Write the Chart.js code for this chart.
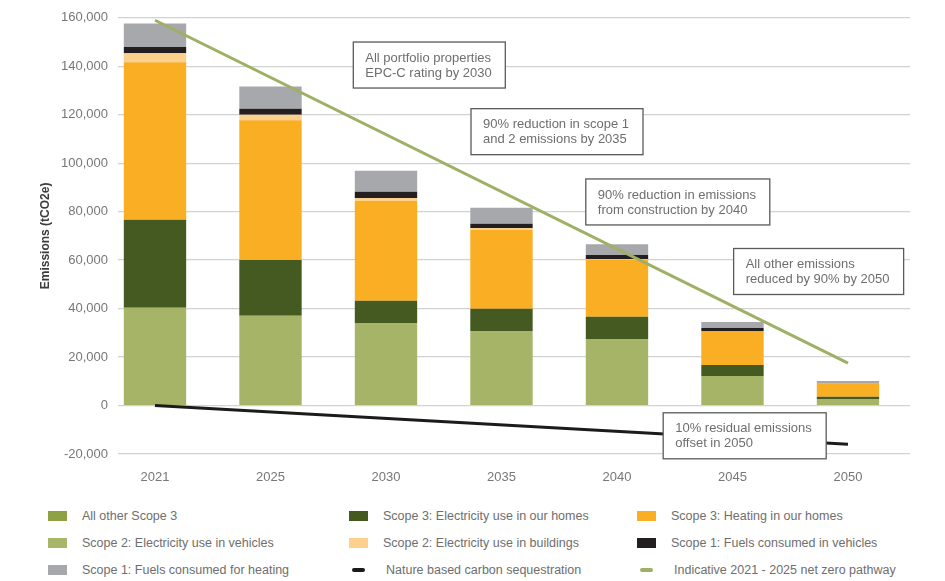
<!DOCTYPE html>
<html>
<head>
<meta charset="utf-8">
<script src="https://cdn.jsdelivr.net/npm/chart.js@4/dist/chart.umd.min.js"></script>
<style>
    html, body { margin: 0; padding: 0; background: #fff; }
    #wrap { position: relative; width: 945px; height: 581px; font-family: "Liberation Sans", Arial, sans-serif; }
    #chartBox { position: absolute; left: 0; top: 0; width: 945px; height: 490px; }
    #legend { position: absolute; left: 0; top: 505px; width: 945px; height: 76px; }
    .item { position: absolute; height: 22px; display: flex; align-items: center; font-size: 12.5px; color: #6e6e6e; white-space: nowrap; }
    .swatch { display: inline-block; width: 19px; height: 10px; margin-right: 15px; }
    .dash { display: inline-block; width: 13px; height: 4px; border-radius: 2px; margin: 0 21px 0 3px; }
</style>
</head>
<body>
<div id="wrap">
    <div id="chartBox"><canvas id="emissions-chart"></canvas></div>
    <div id="legend"></div>
</div>
<script>
// Emissions by source, tCO2e
const years = ['2021', '2025', '2030', '2035', '2040', '2045', '2050'];
const allOtherScope3 = [40400, 37000, 34100, 30800, 27500, 12200, 2700];
const scope2Vehicles = [0, 0, 0, 0, 0, 0, 0];
const scope3ElecHomes = [36300, 23100, 9100, 9100, 9100, 4500, 900];
const scope3HeatingHomes = [65000, 57600, 41300, 32600, 23500, 14100, 5400];
const scope2ElecBuildings = [3700, 2300, 1100, 800, 300, 0, 0];
const scope1FuelsVehicles = [2500, 2500, 2600, 1700, 1700, 1200, 0];
const scope1FuelsHeating = [9700, 9100, 8700, 6600, 4500, 2500, 1100];
// only the end points are known, the line is drawn straight between them
const carbonSequestration = [0, null, null, null, null, null, -16000];
const netZeroPathway = [159000, null, null, null, null, null, 17500];
const yTickValues = [-20000, 0, 20000, 40000, 60000, 80000, 100000, 120000, 140000, 160000];

// milestone call-outs, anchored at (year index, tCO2e)
const milestones = [
    { lines: ['All portfolio properties', 'EPC-C rating by 2030'], at: [1.717, 150000] },
    { lines: ['90% reduction in scope 1', 'and 2 emissions by 2035'], at: [2.736, 122500] },
    { lines: ['90% reduction in emissions', 'from construction by 2040'], at: [3.73, 93500] },
    { lines: ['All other emissions', 'reduced by 90% by 2050'], at: [5.01, 64800] },
    { lines: ['10% residual emissions', 'offset in 2050'], at: [4.4, -3000] }
];

const FONT = '"Liberation Sans", Arial, sans-serif';

function points(values) {
    return values.map((v, i) => ({ x: i, y: v }));
}

function barSet(label, values, color, legendColor) {
    return {
        type: 'bar',
        label: label,
        data: points(values),
        backgroundColor: color,
        legendColor: legendColor || color,
        stack: 'total',
        order: 1,
        barPercentage: 0.54,
        categoryPercentage: 1
    };
}

function lineSet(label, values, color) {
    return {
        type: 'line',
        label: label,
        data: points(values),
        borderColor: color,
        backgroundColor: color,
        legendColor: color,
        borderWidth: 3,
        pointRadius: 0,
        spanGaps: true,
        order: 0
    };
}

const bars = {
    allOther: barSet('All other Scope 3', allOtherScope3, '#a6b467', '#8ea144'),
    elecHomes: barSet('Scope 3: Electricity use in our homes', scope3ElecHomes, '#445a21'),
    heating: barSet('Scope 3: Heating in our homes', scope3HeatingHomes, '#f9ae24'),
    vehicles: barSet('Scope 2: Electricity use in vehicles', scope2Vehicles, '#a7b66b'),
    buildings: barSet('Scope 2: Electricity use in buildings', scope2ElecBuildings, '#fdd08e'),
    fuelVehicles: barSet('Scope 1: Fuels consumed in vehicles', scope1FuelsVehicles, '#231f20'),
    fuelHeating: barSet('Scope 1: Fuels consumed for heating', scope1FuelsHeating, '#a7a8ab')
};
const lines = {
    sequestration: lineSet('Nature based carbon sequestration', carbonSequestration, '#1b1b1b'),
    pathway: lineSet('Indicative 2021 - 2025 net zero pathway', netZeroPathway, '#9db065')
};

// stacking order, bottom to top
const datasets = [
    bars.allOther, bars.vehicles, bars.elecHomes, bars.heating,
    bars.buildings, bars.fuelVehicles, bars.fuelHeating,
    lines.sequestration, lines.pathway
];

// legend reads across in three columns
const legendOrder = [
    bars.allOther, bars.elecHomes, bars.heating,
    bars.vehicles, bars.buildings, bars.fuelVehicles,
    bars.fuelHeating, lines.sequestration, lines.pathway
];

const milestoneBoxes = {
    id: 'milestoneBoxes',
    afterDatasetsDraw(chart) {
        const ctx = chart.ctx;
        const xs = chart.scales.x;
        const ys = chart.scales.y;
        ctx.save();
        ctx.font = '13px ' + FONT;
        milestones.forEach(note => {
            const left = xs.getPixelForValue(note.at[0]);
            const top = ys.getPixelForValue(note.at[1]);
            const textW = Math.max(...note.lines.map(l => ctx.measureText(l).width));
            const w = Math.round(textW + 26);
            const h = 46;
            ctx.fillStyle = '#ffffff';
            ctx.fillRect(left, top, w, h);
            ctx.strokeStyle = '#5a5a5a';
            ctx.lineWidth = 1.3;
            ctx.strokeRect(left, top, w, h);
            ctx.fillStyle = '#6e6e6e';
            ctx.textBaseline = 'middle';
            note.lines.forEach((l, i) => ctx.fillText(l, left + 12, top + 16 + i * 15));
        });
        ctx.restore();
    }
};

const chart = new Chart(document.getElementById('emissions-chart').getContext('2d'), {
    data: { datasets: datasets },
    options: {
        responsive: true,
        maintainAspectRatio: false,
        animation: false,
        layout: { padding: { top: 12, right: 35, left: 0, bottom: 0 } },
        plugins: {
            legend: { display: false },
            tooltip: { enabled: false }
        },
        scales: {
            x: {
                type: 'linear',
                offset: false,
                min: -0.3203,
                max: 6.537,
                grid: { display: false, offset: false },
                border: { display: false },
                afterBuildTicks: scale => { scale.ticks = years.map((_, i) => ({ value: i })); },
                afterFit: scale => { scale.height = 36; },
                ticks: {
                    padding: 8,
                    color: '#777',
                    font: { family: FONT, size: 13 },
                    callback: v => years[v]
                }
            },
            y: {
                stacked: true,
                min: -20000,
                max: 160000,
                afterBuildTicks: scale => { scale.ticks = yTickValues.map(v => ({ value: v })); },
                afterFit: scale => { scale.width = 118; },
                grid: { color: '#d2d2d2', lineWidth: 1.3, drawTicks: false },
                border: { display: false },
                ticks: {
                    padding: 10,
                    color: '#777',
                    font: { family: FONT, size: 13 },
                    callback: v => v.toLocaleString('en-US')
                },
                title: {
                    display: true,
                    text: 'Emissions (tCO2e)',
                    color: '#3c3c3c',
                    font: { family: FONT, size: 12, weight: 'bold' },
                    padding: { top: 38, bottom: 0 }
                }
            }
        }
    },
    plugins: [milestoneBoxes]
});

// three-column legend under the chart
const legendEl = document.getElementById('legend');
const colLefts = [48, 349, 637];
legendOrder.forEach((ds, i) => {
    const item = document.createElement('div');
    item.className = 'item';
    item.style.left = colLefts[i % 3] + 'px';
    item.style.top = (Math.floor(i / 3) * 27) + 'px';
    const mark = document.createElement('span');
    mark.className = ds.type === 'line' ? 'dash' : 'swatch';
    mark.style.background = ds.legendColor;
    item.appendChild(mark);
    item.appendChild(document.createTextNode(ds.label));
    legendEl.appendChild(item);
});
</script>
</body>
</html>
